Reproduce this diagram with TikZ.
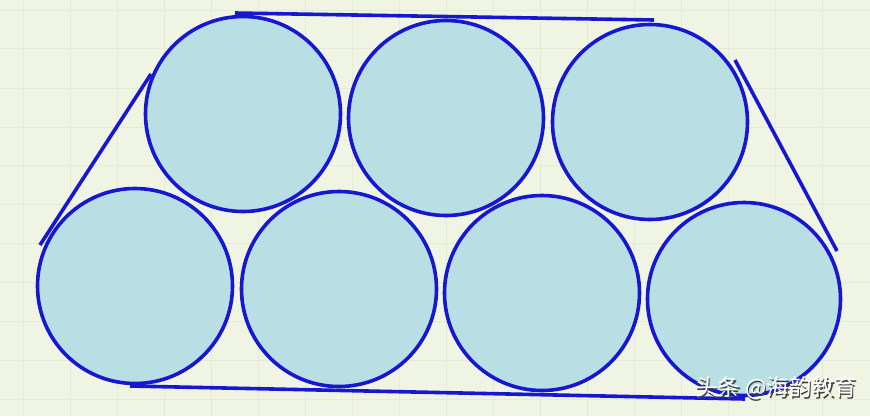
\documentclass[tikz,border=0pt]{standalone}
\usepackage{fontspec}
\newfontfamily\cjk{Noto Sans CJK SC}
\definecolor{bgc}{HTML}{F0F4E2}
\definecolor{gridc}{HTML}{E5EBD7}
\definecolor{fillc}{HTML}{B9DEE3}
\definecolor{edgec}{HTML}{1717D2}
\tikzset{
  ball/.style={circle, draw=edgec, fill=fillc, line width=3.6pt, minimum size=195pt, inner sep=0pt},
  side/.style={draw=edgec, line width=3.6pt}
}
\begin{document}
\begin{tikzpicture}[x=1pt,y=-1pt]
\fill[bgc] (0,0) rectangle (870,416);
\useasboundingbox (0,0) rectangle (870,416);
% faint grid
\foreach \yy in {10,48,88,127,165,204,243,282,321,360,399} {\draw[gridc, line width=1pt] (0,\yy) -- (870,\yy);}
\foreach \xx in {23,70,117,164,211,258,305,352,399,446,493,540,587,634,681,728,775,822} {\draw[gridc, line width=1pt] (\xx,0) -- (\xx,416);}
% circles
\node[ball] (c1) at (243,114) {};
\node[ball] (c2) at (446,118) {};
\node[ball] (c3) at (650,122) {};
\node[ball] (c4) at (135,286) {};
\node[ball] (c5) at (339,289) {};
\node[ball] (c6) at (542,293) {};
\node[ball, minimum size=193pt] (c7) at (744,299) {};
% tangent lines
\coordinate (tl) at (235,13);
\coordinate (tr) at (654,20);
\coordinate (ltop) at (151,74);
\coordinate (lbot) at (40,245);
\coordinate (rtop) at (735,60);
\coordinate (rbot) at (837,251);
\coordinate (bl) at (130,386);
\coordinate (br) at (745,399);
\draw[side] (tl) -- (tr);
\draw[side] (ltop) -- (lbot);
\draw[side] (rtop) -- (rbot);
\draw[side] (bl) -- (br);
% watermark
\node[text=black!75, font=\cjk\fontsize{22.5}{24}\selectfont] (wms) at (777.5,389.5) {头条 @海韵教育};
\node[text=white, font=\cjk\fontsize{22.5}{24}\selectfont] (wm) at (776,388) {头条 @海韵教育};
\end{tikzpicture}
\end{document}
